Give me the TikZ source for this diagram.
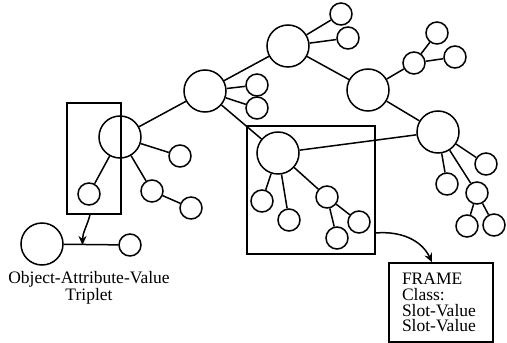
\documentclass[tikz,border=0pt]{standalone}
\usepackage{fontspec}
\setmainfont{Liberation Serif}
\usetikzlibrary{arrows.meta}
\begin{document}
\begin{tikzpicture}[x=1pt,y=-1pt,
  line width=1.5pt,
  bignode/.style={circle,draw,inner sep=0pt,minimum size=42pt},
  smallnode/.style={circle,draw,inner sep=0pt,minimum size=22pt},
  link/.style={draw},
  groupbox/.style={draw,rectangle,inner sep=0pt},
  flow/.style={-{Stealth[length=9pt,width=8pt]}},
  lbl/.style={font=\fontsize{17.5}{17}\selectfont,align=center,inner sep=0pt},
  framebox/.style={draw,rectangle,align=left,inner xsep=0pt,
    text width=78pt,minimum width=104pt,minimum height=79pt,
    font=\fontsize{17.5}{15.8}\selectfont}
]
\useasboundingbox (0,0) rectangle (507,343);

% main hubs
\node[bignode] (B) at (120,137) {};
\node[bignode] (A) at (205,91) {};
\node[bignode] (C) at (288,46) {};
\node[bignode] (D) at (368,90) {};
\node[bignode] (F) at (438,132) {};
\node[bignode] (G) at (278,153) {};

% leaves and sub-hubs
\node[smallnode] (a1) at (257,85) {};
\node[smallnode] (a2) at (257,108) {};
\node[smallnode] (c1) at (341,14) {};
\node[smallnode] (c2) at (348,38) {};
\node[smallnode] (E) at (414,63) {};
\node[smallnode] (e1) at (437,33) {};
\node[smallnode] (e2) at (455,57) {};
\node[smallnode] (b1) at (180,156) {};
\node[smallnode] (b2) at (89,194) {};
\node[smallnode] (b3) at (152,191) {};
\node[smallnode] (b4) at (191,208) {};
\node[smallnode] (g1) at (262,201) {};
\node[smallnode] (g2) at (289,220) {};
\node[smallnode] (g3) at (327,197) {};
\node[smallnode] (g4) at (337,238) {};
\node[smallnode] (g5) at (359,222) {};
\node[smallnode] (f1) at (486,164) {};
\node[smallnode] (f2) at (447,184) {};
\node[smallnode] (f3) at (477,193) {};
\node[smallnode] (f4) at (467,226) {};
\node[smallnode] (f5) at (494,225) {};

% connections
\path[link] (B) -- (A) (A) -- (C) (C) -- (D) (D) -- (E) (D) -- (F)
  (F) -- (G) (A) -- (G)
  (A) -- (a1) (A) -- (a2) (C) -- (c1) (C) -- (c2)
  (E) -- (e1) (E) -- (e2)
  (B) -- (b1) (B) -- (b2) (B) -- (b3) (b3) -- (b4)
  (G) -- (g1) (G) -- (g2) (G) -- (g3) (g3) -- (g4) (g3) -- (g5)
  (F) -- (f1) (F) -- (f2) (F) -- (f3) (f3) -- (f4) (f3) -- (f5);

% highlighted groups
\node[groupbox,minimum width=54pt,minimum height=111pt] (lbox) at (94,158.5) {};
\node[groupbox,minimum width=128pt,minimum height=128pt] (gbox) at (311,190) {};

% object-attribute-value triplet
\node[bignode] (tobj) at (42,244) {};
\node[smallnode] (tval) at (130,245) {};
\path[link] (tobj) -- (tval);
\coordinate (hit) at (82.5,245);
\node[lbl] (tlabel) at (89,288) {Object-Attribute-Value\\Triplet};

% frame
\node[framebox] (frame) at (441,302.5) {FRAME\\Class:\\Slot-Value\\Slot-Value};

% arrows
\draw[flow] ([xshift=-4pt]lbox.south) to[out=-105,in=90] (hit);
\draw[flow] ([yshift=-43pt]gbox.east) to[out=5,in=115] ([xshift=-9pt]frame.north);
\end{tikzpicture}
\end{document}
